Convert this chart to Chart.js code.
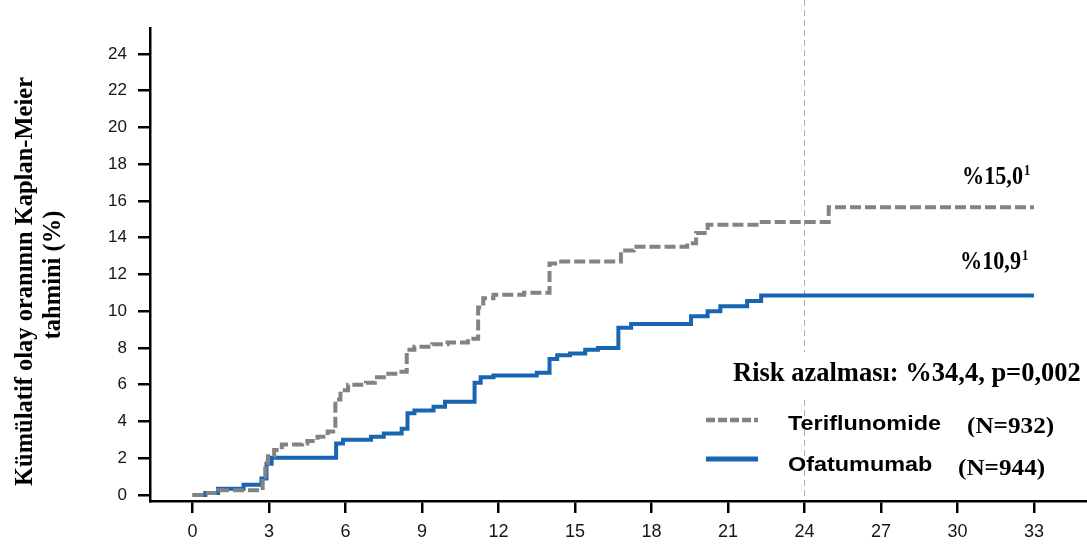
<!DOCTYPE html>
<html>
<head>
<meta charset="utf-8">
<script src="https://cdn.jsdelivr.net/npm/chart.js@4"></script>
<style>
  html, body { margin: 0; padding: 0; background: #fff; }
  #wrap { width: 1087px; height: 545px; position: relative; }
</style>
</head>
<body>
<div id="wrap"><canvas id="km"></canvas></div>
<script>
// time in months, cumulative event rate in %
const teriTimes = [0, 0.5, 1.0, 2.75, 2.85, 2.95, 3.2, 3.5, 4.3, 4.5, 4.9, 5.3, 5.6, 5.8, 6.1, 6.8, 7.15, 7.5, 8.1, 8.4, 8.7, 9.4, 10.0, 10.8, 11.2, 11.4, 11.8, 13.0, 14.0, 14.3, 16.8, 17.3, 19.4, 19.75, 20.2, 22.2, 24.95, 33];
const teriValues = [0, 0.1, 0.25, 1.0, 1.6, 2.1, 2.45, 2.75, 2.8, 2.93, 3.17, 3.45, 5.2, 5.7, 6.0, 6.1, 6.4, 6.6, 6.7, 7.9, 8.06, 8.2, 8.3, 8.5, 10.2, 10.7, 10.9, 11.0, 12.6, 12.7, 13.3, 13.5, 13.7, 14.25, 14.7, 14.85, 15.65, 15.65];

const ofaTimes = [0, 0.5, 1.0, 2.0, 2.7, 2.9, 3.1, 5.63, 5.9, 7.0, 7.5, 8.2, 8.43, 8.7, 9.45, 9.9, 11.06, 11.3, 11.8, 13.5, 14.0, 14.3, 14.8, 15.4, 15.9, 16.7, 17.2, 19.55, 20.2, 20.7, 21.75, 22.3, 33];
const ofaValues = [0, 0.1, 0.33, 0.55, 0.9, 1.7, 2.03, 2.8, 3.0, 3.17, 3.35, 3.6, 4.45, 4.6, 4.8, 5.07, 6.1, 6.4, 6.5, 6.65, 7.4, 7.6, 7.7, 7.9, 8.0, 9.1, 9.3, 9.73, 10.0, 10.27, 10.56, 10.85, 10.85];

const xTicks = [0, 3, 6, 9, 12, 15, 18, 21, 24, 27, 30, 33];
const yTicks = [0, 2, 4, 6, 8, 10, 12, 14, 16, 18, 20, 22, 24];

const seriesNames = ["Teriflunomide", "Ofatumumab"];
const seriesN = ["(N=932)", "(N=944)"];
const endLabels = ["%15,0", "%10,9"];
const riskText = "Risk azalması: %34,4, p=0,002";
const yTitle = ["Kümülatif olay oranının Kaplan-Meier", "tahmini (%)"];

const GRAY = "#838383";
const BLUE = "#1866b2";
const SERIF = "'Liberation Serif', 'Times New Roman', serif";
const SANS = "'Liberation Sans', Arial, sans-serif";

function pts(xs, ys) {
    return xs.map((x, i) => ({ x: x, y: ys[i] }));
}

// text with a horizontal stretch factor
function stretchText(ctx, txt, x, y, font, sx) {
    ctx.save();
    ctx.font = font;
    ctx.translate(x, y);
    ctx.scale(sx, 1);
    ctx.fillText(txt, 0, 0);
    const w = ctx.measureText(txt).width * sx;
    ctx.restore();
    return w;
}

const refLine = {
    id: "refLine",
    beforeDatasetsDraw(chart) {
        const ctx = chart.ctx;
        const x24 = Math.round(chart.scales.x.getPixelForValue(24)) + 0.5;
        ctx.save();
        ctx.strokeStyle = "#ababab";
        ctx.lineWidth = 1;
        ctx.setLineDash([6, 4]);
        ctx.beginPath();
        ctx.moveTo(x24, 0);
        ctx.lineTo(x24, 497);
        ctx.stroke();
        ctx.restore();
    }
};

const annotations = {
    id: "annotations",
    afterDraw(chart) {
        const ctx = chart.ctx;
        ctx.save();
        ctx.fillStyle = "#000";
        ctx.textBaseline = "alphabetic";
        ctx.textAlign = "left";

        // y axis title, two rotated lines
        ctx.font = "bold 24.5px " + SERIF;
        ctx.textAlign = "center";
        [[32, 281.5], [60, 275]].forEach((p, i) => {
            ctx.save();
            ctx.translate(p[0], p[1]);
            ctx.rotate(-Math.PI / 2);
            ctx.fillText(yTitle[i], 0, 0);
            ctx.restore();
        });
        ctx.textAlign = "left";

        // end-point labels with superscript 1
        function supLabel(txt, x, y) {
            const w = stretchText(ctx, txt, x, y, "bold 25px " + SERIF, 0.887);
            stretchText(ctx, "1", x + w + 1, y - 9, "bold 14px " + SERIF, 0.9);
        }
        supLabel(endLabels[0], 962, 184);
        supLabel(endLabels[1], 960, 269);

        // risk reduction text on a white box
        ctx.fillStyle = "#fff";
        ctx.fillRect(706, 352, 381, 46);
        ctx.fillStyle = "#000";
        ctx.font = "bold 26.5px " + SERIF;
        ctx.fillText(riskText, 733, 381);

        // legend
        const rows = [
            { color: GRAY, dash: [9, 3], width: 4.5, y: 420, ty: 430, nx: 967, ny: 433, clip: 437 },
            { color: BLUE, dash: [], width: 5, y: 459, ty: 470.5, nx: 958, ny: 475, clip: null }
        ];
        rows.forEach((r, i) => {
            ctx.strokeStyle = r.color;
            ctx.lineWidth = r.width;
            ctx.setLineDash(r.dash);
            ctx.beginPath();
            ctx.moveTo(706, r.y);
            ctx.lineTo(758, r.y);
            ctx.stroke();
            ctx.setLineDash([]);
            stretchText(ctx, seriesNames[i], 788, r.ty, "bold 20px " + SANS, 1.17);
            ctx.save();
            if (r.clip) {
                ctx.beginPath();
                ctx.rect(0, 0, 1087, r.clip);
                ctx.clip();
            }
            stretchText(ctx, seriesN[i], r.nx, r.ny, "bold 24px " + SERIF, 1.05);
            ctx.restore();
        });
        ctx.restore();
    }
};

new Chart(document.getElementById("km"), {
    type: "line",
    data: {
        datasets: [
            {
                label: seriesNames[0],
                data: pts(teriTimes, teriValues),
                stepped: "before",
                borderColor: GRAY,
                borderWidth: 4,
                borderDash: [11, 4],
                pointRadius: 0,
                fill: false,
            },
            {
                label: seriesNames[1],
                data: pts(ofaTimes, ofaValues),
                stepped: "before",
                borderColor: BLUE,
                borderWidth: 4,
                pointRadius: 0,
                fill: false,
            },
        ],
    },
    options: {
        responsive: true,
        maintainAspectRatio: false,
        animation: false,
        layout: { padding: { top: 28, right: 0, bottom: 0, left: 0 } },
        plugins: {
            legend: { display: false },
            tooltip: { enabled: false },
        },
        scales: {
            x: {
                type: "linear",
                min: -1.67,
                max: 35.08,
                afterBuildTicks(scale) {
                    scale.ticks = xTicks.map(v => ({ value: v }));
                },
                afterFit(scale) { scale.height = 44; },
                border: { color: "#000", width: 2.5 },
                grid: { drawOnChartArea: false, tickLength: 12, color: "#000", lineWidth: 2.5 },
                ticks: {
                    color: "#161616",
                    padding: 8,
                    maxRotation: 0,
                    font: { family: SANS, size: 18 },
                },
            },
            y: {
                min: -0.33,
                max: 25.41,
                afterBuildTicks(scale) {
                    scale.ticks = yTicks.map(v => ({ value: v }));
                },
                afterFit(scale) { scale.width = 150; },
                border: { color: "#000", width: 2.5 },
                grid: { drawOnChartArea: false, tickLength: 12, color: "#000", lineWidth: 2.5 },
                ticks: {
                    color: "#161616",
                    padding: 11,
                    font: { family: SANS, size: 17 },
                },
            },
        },
    },
    plugins: [refLine, annotations],
});
</script>
</body>
</html>
